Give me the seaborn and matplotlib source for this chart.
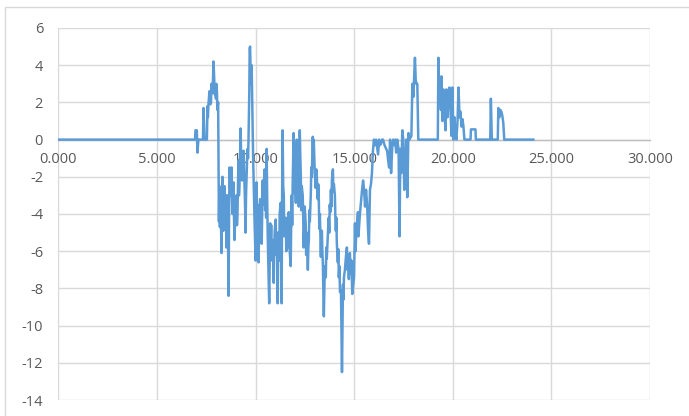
import matplotlib
matplotlib.use("Agg")
import matplotlib.pyplot as plt
import seaborn as sns
import pandas as pd
from matplotlib.patches import Rectangle

# Time axis and signal readings (quiet before ~7 and after ~22.6)
x_vals = [
    0.00, 6.93, 6.95, 7.02, 7.05, 7.10, 7.33, 7.36, 7.41, 7.53, 7.56, 7.58, 7.61,
    7.66, 7.69, 7.71, 7.74, 7.76, 7.81, 7.84, 7.86, 7.89, 7.91, 7.94, 7.96, 7.99,
    8.01, 8.04, 8.06, 8.10,
    8.14, 8.165, 8.19, 8.23, 8.27, 8.30, 8.32, 8.345, 8.37, 8.395, 8.42, 8.47,
    8.495, 8.52, 8.545, 8.57, 8.60, 8.63, 8.655, 8.68, 8.705, 8.73, 8.755, 8.78,
    8.805, 8.83, 8.855, 8.88, 8.905, 8.93, 8.98, 9.03, 9.055, 9.08, 9.105, 9.13,
    9.155, 9.18, 9.21, 9.24, 9.265, 9.29, 9.315, 9.34, 9.365, 9.39, 9.415, 9.44,
    9.465, 9.49, 9.515, 9.54, 9.565, 9.59, 9.615, 9.64, 9.68, 9.70, 9.72, 9.76,
    9.80, 9.83, 9.85, 9.875, 9.90, 9.925, 9.95, 9.975, 10.00,
    10.025, 10.05, 10.08, 10.11, 10.15, 10.175, 10.20, 10.23, 10.26, 10.31,
    10.335, 10.36, 10.385, 10.41, 10.46, 10.485, 10.51, 10.535, 10.56, 10.585,
    10.61, 10.64, 10.69, 10.715, 10.74, 10.76, 10.79, 10.82, 10.87, 10.92,
    10.945, 10.97, 11.02, 11.05, 11.08, 11.12, 11.145, 11.17, 11.20, 11.22,
    11.27, 11.295, 11.32, 11.345, 11.37, 11.40, 11.43, 11.45, 11.48, 11.53,
    11.555, 11.58, 11.63, 11.655, 11.68, 11.705, 11.73, 11.78, 11.805, 11.83,
    11.855, 11.88, 11.905, 11.93, 11.96, 11.99, 12.015, 12.04, 12.065, 12.09,
    12.115, 12.14, 12.165, 12.19, 12.215, 12.24, 12.265, 12.29, 12.315, 12.34,
    12.39, 12.415, 12.44, 12.465, 12.49, 12.54, 12.565, 12.59, 12.62, 12.65,
    12.675, 12.70, 12.725, 12.75, 12.80, 12.825, 12.85, 12.875, 12.90, 12.925,
    12.95, 12.975, 13.00, 13.05, 13.075, 13.10, 13.15, 13.175, 13.20, 13.23,
    13.26, 13.31, 13.335, 13.36, 13.385, 13.41, 13.46, 13.485, 13.51, 13.56,
    13.585, 13.61, 13.66, 13.685, 13.71, 13.735, 13.76, 13.79, 13.82, 13.845,
    13.87, 13.92, 13.945, 13.97, 14.02, 14.045, 14.07, 14.095, 14.12, 14.17,
    14.195, 14.22, 14.25, 14.28, 14.33, 14.38, 14.43, 14.455, 14.48, 14.53,
    14.58, 14.63, 14.655, 14.68, 14.73, 14.78, 14.83, 14.86, 14.90, 14.94,
    14.99, 15.04, 15.065, 15.09, 15.14, 15.19, 15.215, 15.24, 15.29, 15.34,
    15.39, 15.45, 15.50, 15.55, 15.60, 15.65, 15.70, 15.75, 15.80, 15.85,
    15.90, 15.95, 16.00, 16.05, 16.11, 16.16, 16.21, 16.26, 16.31, 16.36,
    16.41, 16.46, 16.54, 16.62, 16.67, 16.72, 16.77, 16.82, 16.87, 16.93,
    16.98, 17.03, 17.08, 17.13, 17.18, 17.25, 17.30, 17.34, 17.39, 17.44,
    17.49, 17.54, 17.59, 17.64, 17.69, 17.75, 17.80, 17.90, 17.95, 18.00,
    18.04, 18.08, 18.12, 18.15, 18.20, 18.25, 19.24, 19.27, 19.30, 19.32,
    19.37, 19.40, 19.42, 19.47, 19.50, 19.52, 19.58, 19.63, 19.68, 19.73,
    19.78, 19.83, 19.88, 19.93, 19.98, 20.03, 20.08, 20.13, 20.18, 20.24,
    20.29, 20.34, 20.39, 20.44, 20.49, 20.54, 20.59, 20.90, 20.92, 21.15,
    21.17, 21.90, 21.93, 21.98, 22.28, 22.31, 22.36, 22.41, 22.46, 22.51,
    22.56, 22.61, 24.10,
]
y_vals = [
    0.0, 0.0, 0.5, 0.5, -0.7, 0.0, 0.0, 1.7, 0.0, 0.0, 1.8, 1.2, 1.9,
    2.6, 2.2, 1.9, 2.0, 3.0, 2.5, 3.2, 4.2, 3.6, 3.0, 2.4, 2.6, 2.2,
    3.0, 2.6, 1.6, 2.0,
    -4.4, -2.5, -4.7, -3.5, -6.1, -4.0, -2.0, -3.5, -4.9, -3.0, -2.5, -4.2,
    -3.0, -5.8, -4.5, -3.0, -5.0, -8.4, -4.0, -1.5, -2.5, -3.0, -2.0, -1.5,
    -3.2, -4.0, -2.8, -2.3, -4.2, -5.4, -3.8, -3.0, -4.6, -4.0, -2.5, -1.1,
    -3.0, -2.5, -1.0, 0.6, -0.8, -1.0, -2.2, -1.8, -0.9, -0.6, -1.5, -2.4,
    -3.5, -5.0, -3.0, -2.0, -1.2, -0.5, -1.0, 0.0, 2.5, 4.9, 5.0, 3.0,
    4.0, 2.0, 0.7, -1.0, -2.2, -3.5, -4.5, -5.5, -6.5,
    -4.0, -2.3, -5.4, -3.5, -6.6, -5.0, -4.2, -3.2, -5.0, -5.6,
    -3.8, -2.2, -3.5, -2.6, -1.6, -3.8, -2.4, -4.2, -0.5, -3.0,
    -4.8, -6.5, -8.8, -6.8, -4.5, -5.9, -4.6, -6.5, -5.4, -7.7,
    -5.8, -4.9, -4.3, -6.2, -5.0, -8.8, -6.0, -5.0, -6.5, -4.0,
    -3.4, -5.5, -8.8, -3.0, 0.5, -2.5, -3.0, -5.2, -4.5, -4.2,
    -6.0, -4.4, -5.8, -4.6, -3.9, -5.0, -6.0, -6.8, -4.5, -3.0,
    -4.6, -2.4, -1.0, 0.35, -1.5, -2.9, -1.6, -3.4, -1.2, 0.0,
    -1.8, -2.7, -1.0, -3.6, -1.5, 0.5, -0.8, -1.8, -3.8, -2.5,
    -3.0, -4.2, -5.8, -4.6, -3.6, -4.5, -6.2, -5.0, -5.8, -7.0,
    -5.8, -5.4, -3.8, -4.4, -2.9, -1.5, -2.0, -0.8, 0.15, -1.0,
    0.0, -0.9, -1.8, -2.6, -1.6, -1.9, -3.2, -2.4, -2.9, -4.8,
    -4.0, -6.3, -5.0, -4.9, -6.0, -6.6, -9.5, -8.0, -6.8, -7.4,
    -5.8, -6.4, -5.2, -4.6, -4.2, -5.0, -3.5, -3.9, -2.7, -3.6,
    -2.2, -1.6, -2.8, -2.4, -3.0, -4.2, -4.9, -4.2, -5.6, -6.6,
    -5.9, -7.4, -6.8, -8.2, -8.1, -12.5, -7.8, -8.6, -7.4, -7.0,
    -6.3, -5.8, -7.0, -6.6, -7.5, -6.1, -7.2, -6.5, -8.3, -7.9,
    -7.4, -4.5, -6.0, -5.4, -4.6, -3.9, -5.2, -4.8, -4.0, -3.4,
    -2.8, -2.2, -2.7, -3.6, -2.7, -3.4, -4.8, -5.6, -2.7, -2.4,
    -1.8, -0.6, 0.0, -0.3, 0.0, -0.4, -0.8, 0.0, -0.3, -0.2,
    0.0, 0.0, -0.3, -0.5, -0.6, -1.1, -1.5, 0.0, -1.8, -0.4,
    0.0, -0.3, 0.0, -0.7, 0.0, -0.5, -5.2, -0.5, -1.8, 0.5,
    0.0, -2.7, -1.8, 0.0, -3.1, 0.35, 0.0, 0.2, 3.0, 2.3,
    3.4, 4.4, 3.2, 3.0, 3.0, 0.0, 0.0, 4.4, 2.8, 3.2,
    2.5, 1.6, 3.4, 1.0, 2.2, 2.7, 1.4, 0.5, 2.7, 1.2,
    2.2, 2.8, 1.7, 0.2, 2.8, 0.0, 1.2, 0.4, 0.0, 1.0,
    2.8, 1.2, 1.5, 0.7, 1.1, 0.7, 0.0, 0.0, 0.55, 0.55,
    0.0, 0.0, 2.2, 0.0, 0.0, 1.7, 1.2, 1.6, 1.5, 1.3,
    0.9, 0.0, 0.0,
]

x_ticks = [0, 5, 10, 15, 20, 25, 30]
y_ticks = [6, 4, 2, 0, -2, -4, -6, -8, -10, -12, -14]

df = pd.DataFrame({"t": x_vals, "v": y_vals})

sns.set_style("white")
plt.rcParams["font.family"] = ["Open Sans", "DejaVu Sans"]

fig = plt.figure(figsize=(6.89, 4.16), dpi=100)
ax = fig.add_axes([58.4 / 689, 1 - 400 / 416, (650 - 58.4) / 689, (400 - 28) / 416])

# chart-area frame
fig.patches.append(Rectangle((5 / 689, -0.05), 1.2, 1 - 7 / 416 + 0.05,
                             transform=fig.transFigure, fill=False,
                             edgecolor="#D9D9D9", linewidth=1.0, zorder=0))

sns.lineplot(data=df, x="t", y="v", ax=ax, sort=False, estimator=None,
             color="#5B9BD5", linewidth=1.8)

ax.set_xlim(0, 30)
ax.set_ylim(-14, 6)
ax.set_xticks(x_ticks)
ax.set_xticklabels([f"{v:.3f}" for v in x_ticks])
ax.set_yticks(y_ticks)
ax.set_yticklabels([str(v) for v in y_ticks])
ax.set_xlabel("")
ax.set_ylabel("")

ax.grid(True, color="#D9D9D9", linewidth=1.0)
ax.set_axisbelow(True)
for side in ["top", "right", "left"]:
    ax.spines[side].set_visible(False)
ax.spines["bottom"].set_position(("data", 0))
ax.spines["bottom"].set_color("#BFBFBF")
ax.spines["bottom"].set_linewidth(1.0)
ax.spines["bottom"].set_zorder(1)

ax.tick_params(axis="both", length=0, labelsize=10.5, labelcolor="#595959")
ax.tick_params(axis="x", pad=9)
ax.tick_params(axis="y", pad=11)

fig.savefig("out.png", dpi=100)
